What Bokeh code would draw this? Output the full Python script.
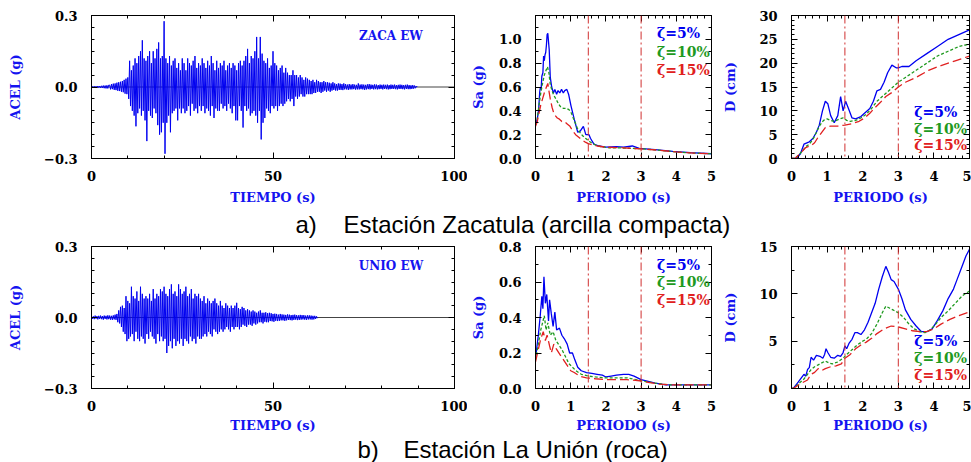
import numpy as np
from bokeh.plotting import figure
from bokeh.layouts import column, row
from bokeh.models import (Range1d, LinearAxis, SingleIntervalTicker,
                          CustomJSTickFormatter, BasicTickFormatter, Span, Label)
from bokeh.embed import file_html
from bokeh.resources import INLINE

# ---------------- data ----------------
DT = 0.25  # s, sampling step of the digitised accelerograms

acc_zaca = [
    0.0, .002, -.002, .003, -.002, .003, -.003, .004, -.003, .004, -.004, .005, -.004, .006, -.005, .006, -.006, .007, -.006, .008,
    .008, -.01, .012, -.009, .014, -.012, .015, -.013, .018, -.016, .02, -.017, .022, -.02, .025, -.022, .03, -.028, .035, -.03,
    .04, -.05, .11, -.08, .07, -.1, .09, -.12, .12, -.165, .1, -.11, .13, -.09, .15, -.12, .196, -.1, .12, -.14,
    .11, -.227, .13, -.1, .15, -.12, .1, -.13, .15, -.09, .12, -.11, .16, -.16, .187, -.2, .12, -.19, .13, -.15,
    .276, -.28, .12, -.15, .1, -.12, .13, -.19, .09, -.11, .11, -.1, .12, -.09, .08, -.14, .1, -.09, .07, -.11,
    .12, -.09, .1, -.11, .07, -.1, .12, -.08, .1, -.12, .09, -.07, .11, -.1, .13, -.09, .08, -.11, .1, -.08,
    .09, -.1, .12, -.08, .1, -.11, .08, -.09, .11, -.1, .09, -.12, .13, -.08, .1, -.13, .07, -.09, .11, -.1,
    .08, -.1, .1, -.07, .09, -.09, .11, -.08, .07, -.1, .09, -.07, .1, -.09, .08, -.11, .1, -.08, .09, -.14,
    .07, -.14, .1, -.08, .11, -.1, .09, -.17, .11, -.08, .13, -.1, .16, -.09, .1, -.12, .13, -.11, .12, -.1,
    .15, -.12, .21, -.15, .12, -.1, .21, -.22, .14, -.15, .11, -.13, .1, -.09, .12, -.1, .08, -.11, .09, -.08,
    .15, -.09, .1, -.08, .09, -.1, .07, -.08, .08, -.07, .09, -.08, .06, -.07, .08, -.06, .06, -.05, .05, -.06,
    .05, -.05, .07, -.08, .05, -.04, .05, -.05, .04, -.04, .05, -.03, .04, -.04, .03, -.04, .04, -.03, .035, -.03,
    .03, -.03, .025, -.03, .03, -.025, .02, -.025, .03, -.02, .025, -.02, .02, -.025, .02, -.02, .025, -.015, .02, -.02,
    .02, -.015, .018, -.02, .015, -.015, .02, -.012, .015, -.015, .012, -.015, .015, -.012, .014, -.012, .012, -.013, .015, -.01,
    .012, -.01, .01, -.012, .012, -.01, .01, -.01, .012, -.009, .01, -.011, .009, -.01, .015, -.01, .01, -.009, .011, -.01,
    .01, -.012, .009, -.01, .011, -.009, .012, -.01, .01, -.008, .009, -.01, .011, -.009, .01, -.01, .008, -.009, .01, -.008,
    .009, -.01, .01, -.008, .009, -.009, .01, -.01, .008, -.009, .01, -.008, .009, -.008, .01, -.009, .008, -.01, .009, -.008,
    .01, -.008, .009, -.009, .008, -.01, .009, -.008, .01, -.009, .008, -.009, .007, -.008, .008, -.007, .006, -.005, .004, 0.0,
]

acc_unio = [
    .004, -.006, .005, -.007, .008, -.005, .006, -.008, .007, -.006, .008, -.007, .006, -.009, .008, -.006, .007, -.008, .009, -.007,
    .008, -.009, .007, -.01, .009, -.008, .012, -.01, .015, -.02, .03, -.025, .045, -.04, .05, -.06, .04, -.07, .09, -.1,
    .07, -.09, .06, -.08, .13, -.07, .09, -.1, .08, -.06, .11, -.09, .07, -.1, .13, -.08, .1, -.09, .08, -.11,
    .09, -.07, .08, -.09, .1, -.06, .07, -.08, .12, -.09, .08, -.11, .1, -.07, .09, -.1, .12, -.08, .11, -.1,
    .13, -.09, .1, -.15, .09, -.12, .12, -.1, .14, -.13, .1, -.09, .11, -.12, .09, -.1, .14, -.11, .12, -.09,
    .1, -.12, .11, -.09, .13, -.1, .09, -.11, .1, -.08, .12, -.1, .08, -.09, .1, -.11, .09, -.08, .1, -.09,
    .08, -.09, .07, -.08, .09, -.07, .06, -.08, .08, -.06, .07, -.07, .06, -.08, .07, -.05, .08, -.06, .06, -.07,
    .05, -.06, .07, -.05, .05, -.06, .04, -.05, .06, -.04, .05, -.05, .04, -.06, .05, -.04, .04, -.05, .05, -.04,
    .062, -.04, .04, -.05, .035, -.04, .045, -.03, .04, -.035, .03, -.04, .035, -.03, .03, -.03, .025, -.035, .03, -.025,
    .025, -.03, .02, -.025, .025, -.02, .03, -.02, .02, -.025, .02, -.018, .022, -.02, .018, -.02, .02, -.015, .018, -.016,
    .015, -.018, .016, -.014, .015, -.015, .012, -.014, .015, -.012, .013, -.012, .012, -.014, .011, -.012, .013, -.01, .012, -.011,
    .01, -.012, .011, -.01, .012, -.009, .01, -.011, .009, -.01, .011, -.009, .01, -.008, .01, -.009, .008, -.01, .009, -.008,
    .009, -.008, .008, -.009, .007, -.008, .007, -.006, .005, -.003,
]

# Pseudo-acceleration spectra Sa (g), Zacatula
T_sa_z5 = [0.0, 0.05, 0.09, 0.12, 0.14, 0.16, 0.18, 0.21, 0.23, 0.25, 0.27, 0.29, 0.31, 0.33, 0.35, 0.37, 0.39, 0.42, 0.46, 0.51,
           0.55, 0.6, 0.64, 0.69, 0.74, 0.79, 0.83, 0.89, 0.94, 1.01, 1.1, 1.2, 1.27, 1.36, 1.43, 1.52, 1.56, 1.66, 1.8, 2.0,
           2.3, 2.5, 2.75, 2.95, 3.4, 3.9, 4.4, 5.0]
sa_z5 = [0.285, 0.33, 0.41, 0.56, 0.6, 0.58, 0.69, 0.72, 0.86, 0.82, 0.87, 0.89, 0.95, 1.04, 1.05, 0.98, 0.91, 0.68, 0.6, 0.55,
         0.58, 0.54, 0.57, 0.55, 0.58, 0.55, 0.57, 0.58, 0.54, 0.44, 0.33, 0.22, 0.23, 0.27, 0.2, 0.2, 0.17, 0.12, 0.105, 0.095,
         0.1, 0.095, 0.105, 0.085, 0.075, 0.06, 0.05, 0.04]
T_sa_z10 = [0.0, 0.05, 0.1, 0.15, 0.2, 0.25, 0.3, 0.34, 0.38, 0.42, 0.47, 0.52, 0.58, 0.65, 0.72, 0.8, 0.88, 0.95, 1.02, 1.1,
            1.18, 1.26, 1.34, 1.42, 1.5, 1.6, 1.7, 1.85, 2.1, 2.5, 3.0, 3.5, 4.0, 4.5, 5.0]
sa_z10 = [0.28, 0.33, 0.45, 0.55, 0.63, 0.7, 0.74, 0.77, 0.72, 0.62, 0.57, 0.53, 0.5, 0.46, 0.43, 0.42, 0.42, 0.41, 0.38, 0.32,
          0.26, 0.22, 0.19, 0.17, 0.15, 0.13, 0.115, 0.1, 0.09, 0.088, 0.082, 0.07, 0.055, 0.045, 0.04]
T_sa_z15 = [0.0, 0.05, 0.1, 0.15, 0.2, 0.26, 0.31, 0.35, 0.38, 0.42, 0.47, 0.52, 0.56, 0.62, 0.68, 0.75, 0.82, 0.9, 0.98, 1.06,
            1.14, 1.22, 1.3, 1.4, 1.5, 1.6, 1.75, 2.0, 2.5, 3.0, 3.5, 4.0, 4.5, 5.0]
sa_z15 = [0.27, 0.31, 0.38, 0.45, 0.5, 0.56, 0.6, 0.63, 0.57, 0.5, 0.43, 0.38, 0.36, 0.34, 0.33, 0.31, 0.31, 0.29, 0.27, 0.23,
          0.2, 0.18, 0.16, 0.14, 0.125, 0.115, 0.105, 0.095, 0.09, 0.08, 0.07, 0.055, 0.045, 0.04]

# Displacement spectra D (cm), Zacatula
T_d_z5 = [0.0, 0.15, 0.25, 0.35, 0.5, 0.6, 0.7, 0.78, 0.87, 0.95, 1.02, 1.1, 1.2, 1.3, 1.38, 1.45, 1.52, 1.6, 1.7, 1.8,
          1.95, 2.05, 2.2, 2.3, 2.4, 2.5, 2.6, 2.7, 2.82, 2.95, 3.0, 3.1, 3.3, 3.5, 3.8, 4.1, 4.4, 4.7, 5.0]
d_z5 = [0.0, 0.1, 1.0, 3.0, 3.5, 4.2, 5.5, 7.0, 10.0, 12.0, 11.5, 9.0, 7.5, 9.0, 13.0, 10.0, 12.0, 10.5, 8.5, 8.3,
        8.8, 9.5, 10.5, 12.0, 14.2, 14.5, 16.0, 18.0, 19.6, 19.0, 19.0, 19.3, 19.3, 20.5, 22.0, 23.5, 25.0, 26.0, 27.0]
T_d_z10 = [0.0, 0.1, 0.3, 0.4, 0.5, 0.6, 0.7, 0.8, 0.9, 1.0, 1.1, 1.2, 1.35, 1.45, 1.55, 1.65, 1.8, 1.95, 2.1, 2.25,
           2.4, 2.55, 2.7, 2.85, 3.0, 3.2, 3.5, 3.8, 4.1, 4.4, 4.7, 5.0]
d_z10 = [0.0, 0.0, 1.5, 2.5, 3.0, 4.0, 5.5, 7.0, 8.0, 8.3, 8.0, 7.8, 8.3, 8.5, 8.0, 7.8, 8.0, 8.5, 9.3, 10.5,
         12.0, 13.0, 14.0, 15.0, 16.0, 17.0, 18.5, 20.0, 21.5, 22.5, 23.5, 24.0]
T_d_z15 = [0.0, 0.1, 0.3, 0.4, 0.55, 0.65, 0.75, 0.85, 0.95, 1.1, 1.3, 1.5, 1.7, 1.9, 2.05, 2.2, 2.35, 2.5, 2.65, 2.85,
           3.0, 3.2, 3.5, 3.85, 4.2, 4.6, 5.0]
d_z15 = [0.0, 0.0, 1.5, 2.3, 2.7, 3.3, 4.5, 5.5, 6.5, 6.8, 6.8, 7.0, 7.3, 7.8, 8.5, 9.5, 10.7, 11.8, 13.0, 14.0,
         15.0, 16.0, 17.0, 18.5, 19.5, 20.5, 21.5]

# Pseudo-acceleration spectra Sa (g), La Union
T_sa_u5 = [0.0, 0.08, 0.13, 0.18, 0.21, 0.24, 0.28, 0.32, 0.37, 0.4, 0.45, 0.5, 0.55, 0.6, 0.68, 0.75, 0.82, 0.9, 0.97, 1.05,
           1.12, 1.2, 1.3, 1.45, 1.6, 1.75, 1.9, 2.0, 2.15, 2.3, 2.5, 2.65, 2.8, 3.0, 3.2, 3.4, 3.7, 4.0, 4.5, 5.0]
sa_u5 = [0.17, 0.3, 0.4, 0.52, 0.45, 0.63, 0.48, 0.53, 0.38, 0.5, 0.42, 0.35, 0.43, 0.33, 0.34, 0.3, 0.28, 0.25, 0.2, 0.2,
         0.16, 0.12, 0.1, 0.09, 0.085, 0.08, 0.075, 0.065, 0.07, 0.075, 0.08, 0.08, 0.07, 0.05, 0.04, 0.03, 0.02, 0.02, 0.02, 0.02]
T_sa_u10 = [0.0, 0.08, 0.15, 0.2, 0.25, 0.3, 0.35, 0.42, 0.5, 0.58, 0.65, 0.75, 0.85, 0.95, 1.05, 1.15, 1.3, 1.5, 1.7, 2.0,
            2.3, 2.6, 2.85, 3.1, 3.4, 3.8, 5.0]
sa_u10 = [0.16, 0.25, 0.33, 0.37, 0.41, 0.33, 0.37, 0.3, 0.32, 0.27, 0.25, 0.22, 0.18, 0.14, 0.12, 0.1, 0.08, 0.07, 0.065, 0.06,
          0.06, 0.06, 0.05, 0.04, 0.03, 0.02, 0.02]
T_sa_u15 = [0.0, 0.08, 0.15, 0.22, 0.28, 0.33, 0.4, 0.45, 0.52, 0.6, 0.7, 0.8, 0.9, 1.0, 1.1, 1.25, 1.45, 1.7, 2.0, 2.3,
            2.6, 2.9, 3.2, 3.5, 3.9, 5.0]
sa_u15 = [0.15, 0.22, 0.28, 0.32, 0.27, 0.3, 0.24, 0.2, 0.25, 0.22, 0.19, 0.16, 0.13, 0.1, 0.09, 0.07, 0.06, 0.055, 0.05, 0.05,
          0.05, 0.045, 0.035, 0.025, 0.02, 0.02]

# Displacement spectra D (cm), La Union
T_d_u5 = [0.0, 0.05, 0.15, 0.25, 0.35, 0.4, 0.45, 0.5, 0.55, 0.62, 0.7, 0.8, 0.88, 0.93, 0.97, 1.02, 1.1, 1.2, 1.3, 1.38,
          1.45, 1.5, 1.55, 1.62, 1.7, 1.78, 1.85, 1.95, 2.05, 2.15, 2.25, 2.35, 2.45, 2.55, 2.65, 2.72, 2.8, 2.88, 3.0, 3.1,
          3.2, 3.35, 3.5, 3.65, 3.8, 3.95, 4.1, 4.25, 4.4, 4.55, 4.65, 4.8, 4.9, 5.0]
d_u5 = [0.0, 0.0, 0.5, 1.0, 1.5, 1.3, 2.0, 2.2, 3.3, 3.0, 3.5, 3.4, 3.2, 3.6, 4.2, 3.8, 3.3, 3.2, 3.5, 3.4,
        3.8, 4.5, 4.2, 4.8, 5.2, 5.9, 5.9, 5.7, 6.2, 7.0, 8.0, 9.0, 10.5, 11.8, 12.9, 12.3, 11.5, 11.3, 10.5, 9.5,
        8.3, 7.3, 6.6, 6.0, 6.0, 6.3, 7.2, 8.2, 9.5, 10.5, 11.5, 13.0, 14.0, 14.7]
T_d_u10 = [0.0, 0.05, 0.2, 0.35, 0.45, 0.55, 0.65, 0.75, 0.85, 0.95, 1.05, 1.15, 1.3, 1.45, 1.55, 1.7, 1.85, 2.0, 2.1, 2.25,
           2.4, 2.55, 2.65, 2.75, 2.85, 3.0, 3.15, 3.3, 3.45, 3.6, 3.75, 3.9, 4.05, 4.2, 4.4, 4.6, 4.8, 5.0]
d_u10 = [0.0, 0.0, 0.5, 1.0, 1.5, 2.0, 2.3, 2.5, 2.7, 2.9, 2.7, 2.6, 2.8, 3.2, 3.6, 4.1, 4.6, 5.0, 5.2, 5.8,
         6.8, 8.0, 8.7, 8.5, 8.3, 8.0, 7.5, 6.8, 6.3, 6.0, 5.9, 6.2, 6.8, 7.5, 8.2, 9.0, 9.8, 10.3]
T_d_u15 = [0.0, 0.05, 0.25, 0.45, 0.55, 0.65, 0.75, 0.85, 0.95, 1.1, 1.25, 1.4, 1.5, 1.65, 1.8, 1.95, 2.1, 2.25, 2.4, 2.6,
           2.8, 3.0, 3.2, 3.4, 3.6, 3.8, 4.0, 4.2, 4.45, 4.7, 5.0]
d_u15 = [0.0, 0.0, 0.5, 0.9, 1.5, 1.7, 2.1, 1.9, 2.1, 2.3, 2.4, 2.6, 3.2, 3.6, 4.2, 4.6, 4.9, 5.3, 5.8, 6.3,
         6.6, 6.5, 6.3, 6.1, 6.0, 6.0, 6.3, 6.8, 7.3, 7.7, 8.1]

periods_marked = [1.5, 3.0]
damping_labels = ["\u03b6=5%", "\u03b6=10%", "\u03b6=15%"]
station_labels = ["ZACA EW", "UNIO EW"]
captions = [("a)", "Estaci\u00f3n Zacatula (arcilla compacta)"), ("b)", "Estaci\u00f3n La Uni\u00f3n (roca)")]

# ---------------- style ----------------
BLUE = "#0000f0"
GREEN = "#1f9a1f"
RED = "#e02020"
DASHDOT = "#d03030"
LBLUE = "#1414f0"
SERIF = "DejaVu Serif"
SANS = "Liberation Sans"
DAMP_COLORS = [BLUE, GREEN, RED]
DAMP_DASH = ["solid", "3 2", "9 4"]


def one_dec():
    return CustomJSTickFormatter(code="return tick.toFixed(1).replace('-', '\u2212');")


def style_axis(ax, label_standoff=14):
    ax.axis_line_color = "black"
    ax.major_tick_in = 6
    ax.major_tick_out = 0
    ax.minor_tick_in = 3
    ax.minor_tick_out = 0
    ax.major_tick_line_color = "black"
    ax.minor_tick_line_color = "black"
    ax.major_label_text_font = SERIF
    ax.major_label_text_font_style = "bold"
    ax.major_label_text_font_size = "13px"
    ax.major_label_text_color = "black"
    ax.major_label_standoff = label_standoff
    ax.axis_label_text_font = SERIF
    ax.axis_label_text_font_style = "bold"
    ax.axis_label_text_font_size = "13px"
    ax.axis_label_text_color = LBLUE


def panel(width, height, xr, yr, borders, xtick, ytick, xfmt, yfmt, xlabel, ylabel, ylab_standoff, xlab_standoff):
    left, right, top, bottom = borders
    p = figure(width=width, height=height, x_range=Range1d(*xr), y_range=Range1d(*yr),
               toolbar_location=None, output_backend="svg",
               min_border_left=left, min_border_right=right,
               min_border_top=top, min_border_bottom=bottom,
               x_axis_location=None, y_axis_location=None)
    p.grid.visible = False
    p.outline_line_color = "black"
    p.outline_line_width = 1
    p.background_fill_color = "white"
    p.border_fill_color = "white"
    xb = LinearAxis(ticker=xtick, formatter=xfmt, axis_label=xlabel)
    style_axis(xb, 12)
    xb.axis_label_standoff = xlab_standoff
    p.add_layout(xb, "below")
    yl = LinearAxis(ticker=ytick, formatter=yfmt, axis_label=ylabel)
    style_axis(yl, 14)
    yl.axis_label_standoff = ylab_standoff
    p.add_layout(yl, "left")
    # mirrored tick marks on the top and right sides, without labels
    for loc, tk in (("above", xtick), ("right", ytick)):
        ax = LinearAxis(ticker=tk)
        style_axis(ax, 0)
        ax.major_label_text_font_size = "0px"
        ax.major_label_text_color = None
        p.add_layout(ax, loc)
    return p


def accel_panel(height, borders, acc, station, xls):
    p = panel(467, height, (0, 100), (-0.3, 0.3), borders,
              SingleIntervalTicker(interval=50, num_minor_ticks=5),
              SingleIntervalTicker(interval=0.3, num_minor_ticks=6),
              BasicTickFormatter(), one_dec(), "TIEMPO (s)", "ACEL (g)", 18, xls)
    p.add_layout(Span(location=0, dimension="width", line_color="#444444", line_width=1, level="underlay"))
    t = np.arange(len(acc)) * DT
    p.line(t, acc, line_color=BLUE, line_width=1)
    p.add_layout(Label(x=82.5, y=0.216, text=station, text_font=SERIF, text_font_style="bold",
                       text_font_size="12px", text_color=LBLUE, text_align="center", text_baseline="middle"))
    return p


def spectrum_panel(width, height, borders, ymax, yint, yminor, yfmt, ylabel, ylab_standoff, xls, curves, leg_y):
    p = panel(width, height, (0, 5), (0, ymax), borders,
              SingleIntervalTicker(interval=1, num_minor_ticks=5),
              SingleIntervalTicker(interval=yint, num_minor_ticks=yminor),
              BasicTickFormatter(), yfmt, "PERIODO (s)", ylabel, ylab_standoff, xls)
    for tp in periods_marked:
        p.add_layout(Span(location=tp, dimension="height", line_color=DASHDOT,
                          line_dash="8 3 2 3", line_width=1))
    for (T, v), col, dash in zip(curves, DAMP_COLORS, DAMP_DASH):
        p.line(T, v, line_color=col, line_width=1.3, line_dash=dash)
    for txt, col, yy in zip(damping_labels, DAMP_COLORS, leg_y):
        p.add_layout(Label(x=3.45, y=yy, text=txt, text_font=SERIF, text_font_style="bold",
                           text_font_size="14px", text_color=col, text_align="left", text_baseline="middle"))
    return p


def caption_fig(height, ymid, xa, xb, parts):
    c = figure(width=971, height=height, x_range=Range1d(0, 971), y_range=Range1d(0, height),
               toolbar_location=None, output_backend="svg", min_border=0,
               x_axis_location=None, y_axis_location=None)
    c.grid.visible = False
    c.outline_line_color = None
    c.background_fill_color = "white"
    c.border_fill_color = "white"
    for xx, txt in ((xa, parts[0]), (xb, parts[1])):
        c.add_layout(Label(x=xx, y=ymid, text=txt, text_font=SANS, text_font_size="24px",
                           text_color="black", text_align="left", text_baseline="middle"))
    return c


TOP_H, BOT_H = 207, 197
top_b = (15, 49)
bot_b = (8, 47)

f1 = accel_panel(TOP_H, (91, 13) + top_b, acc_zaca, station_labels[0], 6)
f2 = spectrum_panel(253, TOP_H, (63, 9) + top_b, 1.2, 0.2, 2, one_dec(), "Sa (g)", 10, 6,
                    [(T_sa_z5, sa_z5), (T_sa_z10, sa_z10), (T_sa_z15, sa_z15)], [1.049, 0.894, 0.743])
f3 = spectrum_panel(251, TOP_H, (68, 2) + top_b, 30, 5, 5, BasicTickFormatter(), "D (cm)", 18, 6,
                    [(T_d_z5, d_z5), (T_d_z10, d_z10), (T_d_z15, d_z15)], [9.86, 6.29, 2.73])

f4 = accel_panel(BOT_H, (91, 13) + bot_b, acc_unio, station_labels[1], 4)
f5 = spectrum_panel(253, BOT_H, (63, 9) + bot_b, 0.8, 0.2, 2, one_dec(), "Sa (g)", 10, 4,
                    [(T_sa_u5, sa_u5), (T_sa_u10, sa_u10), (T_sa_u15, sa_u15)], [0.693, 0.599, 0.496])
f6 = spectrum_panel(251, BOT_H, (68, 2) + bot_b, 15, 5, 2, BasicTickFormatter(), "D (cm)", 18, 4,
                    [(T_d_u5, d_u5), (T_d_u10, d_u10), (T_d_u15, d_u15)], [5.0, 3.24, 1.40])

cap_a = caption_fig(31, 14, 295, 343, captions[0])
cap_b = caption_fig(27, 13.5, 357, 403, captions[1])

layout = column(row(f1, f2, f3), cap_a, row(f4, f5, f6), cap_b)

open("out.html", "w").write(file_html(layout, INLINE))
